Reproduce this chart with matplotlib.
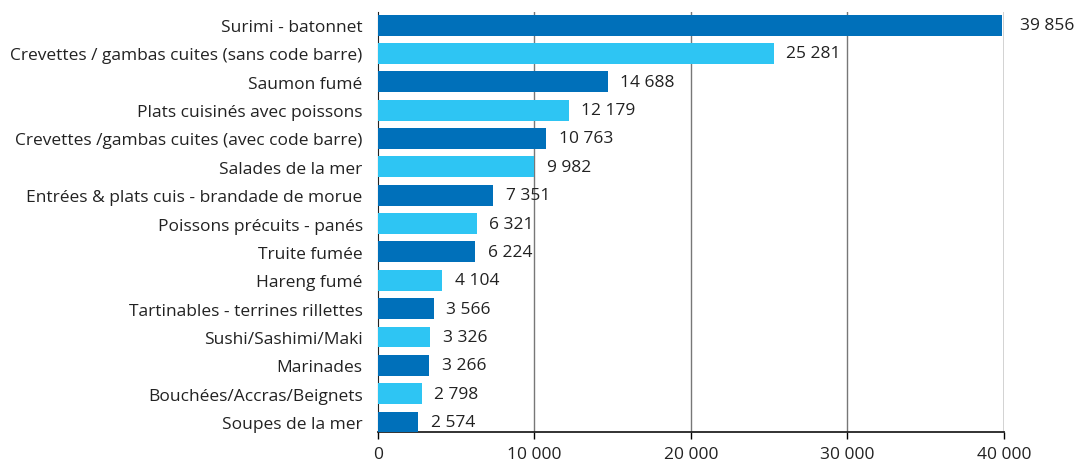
import numpy as np
import matplotlib.pyplot as plt

categories = [
    "Surimi - batonnet",
    "Crevettes / gambas cuites (sans code barre)",
    "Saumon fumé",
    "Plats cuisinés avec poissons",
    "Crevettes /gambas cuites (avec code barre)",
    "Salades de la mer",
    "Entrées & plats cuis - brandade de morue",
    "Poissons précuits - panés",
    "Truite fumée",
    "Hareng fumé",
    "Tartinables - terrines rillettes",
    "Sushi/Sashimi/Maki",
    "Marinades",
    "Bouchées/Accras/Beignets",
    "Soupes de la mer",
]
values = [39856, 25281, 14688, 12179, 10763, 9982, 7351, 6321, 6224,
          4104, 3566, 3326, 3266, 2798, 2574]
xticks = [0, 10000, 20000, 30000, 40000]

dark = "#0070BA"
light = "#2EC5F3"


def fmt(v):
    return "{:,}".format(v).replace(",", " ")


def main():
    plt.rcParams['font.family'] = ['Open Sans', 'DejaVu Sans']
    fs = 12.5
    fig = plt.figure(figsize=(10.77, 4.64), dpi=100)
    ax = fig.add_axes([0.351, 0.0668, 0.581, 0.9052])

    y = np.arange(len(categories))
    colors = [dark if i % 2 == 0 else light for i in range(len(categories))]
    ax.barh(y, values, height=0.74, color=colors, zorder=3)

    for i, v in enumerate(values):
        ax.annotate(fmt(v), (v, i), xytext=(9 if v < 39000 else 13, 0),
                    textcoords='offset points', va='center', ha='left',
                    fontsize=fs, color='#222222')

    ax.set_ylim(len(categories) - 1 + 0.35, -0.46)
    ax.set_xlim(0, 40000)
    ax.set_yticks(y)
    ax.set_yticklabels(categories, fontsize=fs, color='#222222')
    ax.tick_params(axis='y', length=0, pad=11)
    ax.set_xticks(xticks)
    ax.set_xticklabels([fmt(t) for t in xticks], fontsize=fs, color='#222222')
    ax.tick_params(axis='x', length=5, width=1, pad=5)

    for t in xticks[1:-1]:
        ax.axvline(t, color='#777777', lw=1, zorder=1)
    ax.axvline(40000, color='#222222', lw=1, zorder=1)

    for s in ['top', 'right']:
        ax.spines[s].set_visible(False)
    ax.spines['left'].set_color('#222222')
    ax.spines['bottom'].set_color('#222222')
    ax.spines['bottom'].set_linewidth(1.3)

    fig.savefig('out.png', dpi=100)


if __name__ == '__main__':
    main()
